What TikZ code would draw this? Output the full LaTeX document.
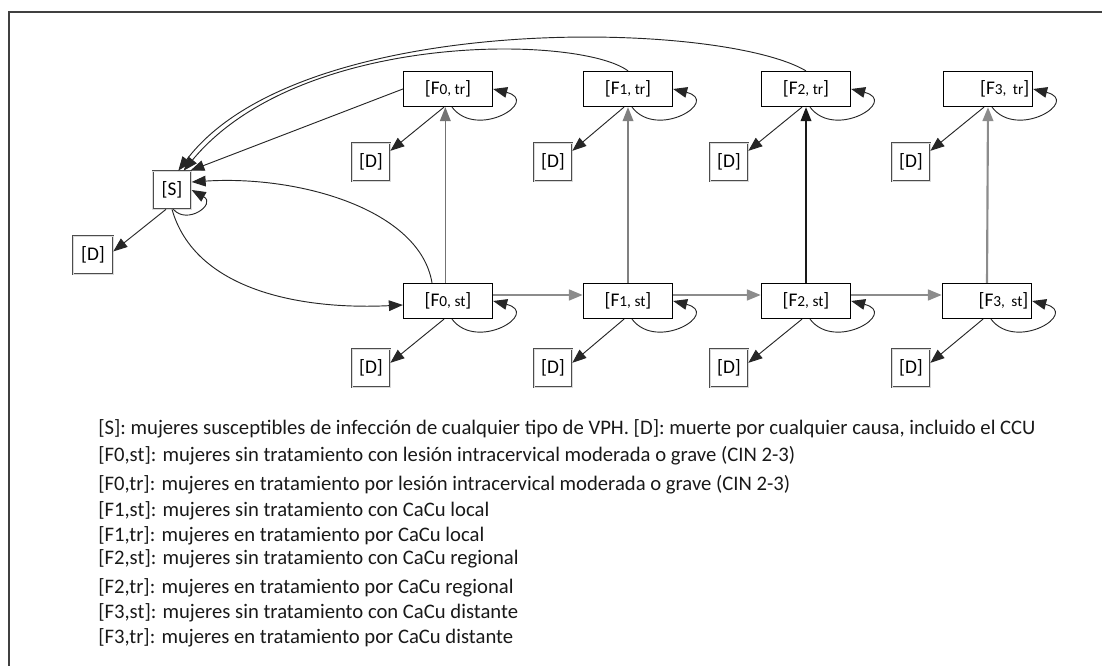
\documentclass[tikz,border=0pt]{standalone}
\usepackage{fontspec}
\setmainfont{Carlito}
\usetikzlibrary{arrows.meta}
\newcommand\lblfont{\fontsize{14.5}{15}\selectfont}
\newcommand\legfont{\fontsize{15.5}{17}\selectfont}
\newcommand\flab[2]{[F{\fontsize{11.5}{12}\selectfont #1, #2}]}
\tikzset{
  fbox/.style={draw, line width=1.2pt, minimum width=66.5pt, minimum height=26pt, inner sep=0pt, font=\lblfont},
  dbox/.style={draw=black!70, double=black!15, double distance=0.7pt, line width=0.5pt, minimum width=28.5pt, minimum height=28.5pt, inner sep=0pt, font=\lblfont},
  arr/.style={-{Triangle[length=10.5pt,width=8pt]}, line width=0.7pt, black!85},
  varr/.style={-{Triangle[length=10.5pt,width=8pt]}, line width=1.2pt},
  harr/.style={-{Triangle[length=10.5pt,width=8pt]}, line width=2pt, black!45},
  legend/.style={anchor=base west, inner sep=0pt, font=\legfont, text=black!90}
}
\newcommand\myloop[1]{\draw[arr] ([xshift=3pt]#1.south) .. controls +(25,33) and +(48,12) .. (#1.east);}
\begin{document}
\begin{tikzpicture}[x=0.75pt,y=-0.75pt]
\useasboundingbox (0,0) rectangle (1102,666);
\draw[line width=1.5pt, black!75] (9,666) -- (9,12.5) -- (1102,12.5);

% nodes
\node[dbox, minimum width=29pt] (S) at (172,190) {[S]};
\node[dbox, minimum width=30pt] (DL) at (93,255) {[D]};

\node[fbox] (F0tr) at (448,89) {\flab{0}{tr}};
\node[fbox] (F1tr) at (628,89) {\flab{1}{tr}};
\node[fbox] (F2tr) at (806,89) {\flab{2}{tr}};
\node[fbox, text width=62pt, align=right] (F3tr) at (988,89) {\flab{3}{tr}\hspace*{4pt}};

\node[fbox] (F0st) at (448,301) {\flab{0}{st}};
\node[fbox] (F1st) at (628,301) {\flab{1}{st}};
\node[fbox] (F2st) at (806,301) {\flab{2}{st}};
\node[fbox, text width=62pt, align=right] (F3st) at (987,301) {\flab{3}{st}};

\node[dbox] (D0t) at (371,162) {[D]};
\node[dbox] (D1t) at (553,162) {[D]};
\node[dbox] (D2t) at (729,162) {[D]};
\node[dbox] (D3t) at (911,162) {[D]};
\node[dbox] (D0s) at (371,368) {[D]};
\node[dbox] (D1s) at (553,368) {[D]};
\node[dbox] (D2s) at (729,368) {[D]};
\node[dbox] (D3s) at (911,368) {[D]};

% death arrows
\draw[arr] ([xshift=-4.5pt]S.south) -- (DL.10);
\foreach \i in {0,1,2,3}{
  \draw[arr] ([xshift=-3pt]F\i tr.south) -- (D\i t.30);
  \draw[arr] ([xshift=-3pt]F\i st.south) -- (D\i s.15);
}

% self loops
\foreach \n in {F0tr,F1tr,F2tr,F3tr,F0st,F1st,F2st,F3st}{\myloop{\n}}
\draw[arr] ([xshift=1pt]S.south) .. controls +(14,16) and +(25,14) .. (S.east);

% vertical arrows
\draw[varr, black!55] ([xshift=-2pt]F0st.north) -- ([xshift=-2pt]F0tr.south);
\draw[varr, black!50] (F1st.north) -- (F1tr.south);
\draw[varr, black!90] (F2st.north) -- (F2tr.south);
\draw[varr, black!45, line width=1.6pt] (F3st.north) -- (F3tr.south);

% horizontal arrows
\draw[harr] ([yshift=4.5pt]F0st.east) -- ([yshift=4.5pt]F1st.west);
\draw[harr] ([yshift=4.5pt]F1st.east) -- ([yshift=4.5pt]F2st.west);
\draw[harr] ([yshift=4.5pt]F2st.east) -- ([yshift=4.5pt]F3st.west);

% returns to S
\draw[arr] (F2tr.north) .. controls (720,20) and (300,10) .. ([xshift=-10pt]S.north east);
\draw[arr] (F1tr.north) .. controls (580,35) and (300,30) .. ([xshift=-6pt]S.north east);
\draw[arr] (F0tr.west) -- ([xshift=-1pt]S.north east);
\draw[arr] ([xshift=-12pt]F0st.north) .. controls (420,210) and (300,175) .. ([yshift=6pt]S.east);
\draw[arr] (S.south) .. controls (195,290) and (300,310) .. ([yshift=-3pt]F0st.west);

% legend
\node[legend] (L1) at (98,434) {[S]: mujeres susceptibles de infección de cualquier tipo de VPH. [D]: muerte por cualquier causa, incluido el CCU};
\node[legend] (L2) at (98,461) {[F0,st]: mujeres sin tratamiento con lesión intracervical moderada o grave (CIN 2-3)};
\node[legend] (L3) at (98,490) {[F0,tr]: mujeres en tratamiento por lesión intracervical moderada o grave (CIN 2-3)};
\node[legend] (L4) at (98,516) {[F1,st]: mujeres sin tratamiento con CaCu local};
\node[legend] (L5) at (98,541) {[F1,tr]: mujeres en tratamiento por CaCu local};
\node[legend] (L6) at (98,564) {[F2,st]: mujeres sin tratamiento con CaCu regional};
\node[legend] (L7) at (98,593) {[F2,tr]: mujeres en tratamiento por CaCu regional};
\node[legend] (L8) at (98,618) {[F3,st]: mujeres sin tratamiento con CaCu distante};
\node[legend] (L9) at (98,643) {[F3,tr]: mujeres en tratamiento por CaCu distante};
\end{tikzpicture}
\end{document}
